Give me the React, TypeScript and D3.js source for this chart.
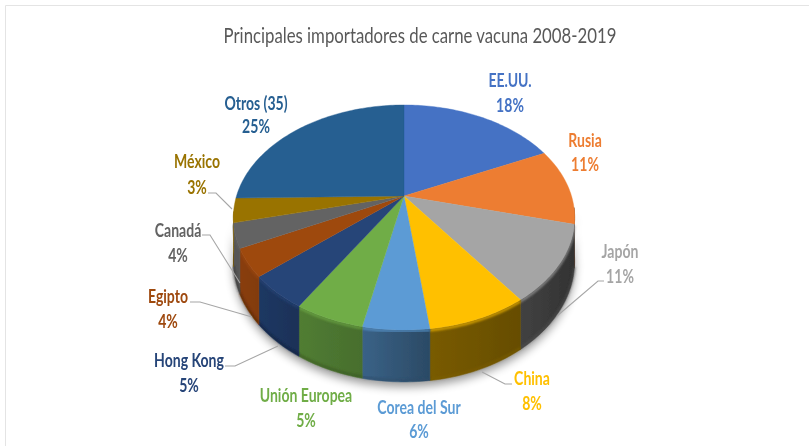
import React from "react";
import * as d3 from "d3";

const categories = ["EE.UU.", "Rusia", "Japón", "China", "Corea del Sur", "Unión Europea", "Hong Kong", "Egipto", "Canadá", "México", "Otros (35)"];
const shares = [18, 11, 11, 8, 5.25, 5.55, 4.9, 4, 3.5, 3.5, 25.3];
const pctLabels = ["18%", "11%", "11%", "8%", "6%", "5%", "5%", "4%", "4%", "3%", "25%"];
const colors = ["#4472c4", "#ed7d31", "#a5a5a5", "#ffc000", "#5b9bd5", "#70ad47", "#264478", "#9e480e", "#636363", "#997300", "#255e91"];
const labelPos: [number, number, number][] = [
  [510, 87, 112], [585, 147, 171], [620, 258, 283], [532, 385, 410], [419, 414, 438],
  [306, 402, 427], [189, 367, 392], [168, 303, 328], [178, 237, 262], [197, 168, 194], [256, 110, 133],
];
const leaders: [number, number][][] = [
  [[604, 281], [598, 281], [557, 316]],
  [[512, 384], [505, 384], [482, 372]],
  [[225, 366], [235, 366], [278, 346]],
  [[190, 302], [200, 302], [252, 317]],
  [[202, 235], [210, 235], [240, 283]],
  [[208, 193], [216, 193], [232, 209]],
];

const CX = 404, CY = 196, R = 167.5, RV = 108.4, K = 0.191, H = 42;
const project = (a: number, depth = 0): [number, number] => {
  const u = Math.sin(a), v = -Math.cos(a), w = 1 - K * v;
  return [CX + (R * u) / w, CY + (RV * v) / w + (depth * H) / w];
};
const sample = (a0: number, a1: number, depth = 0) => {
  const n = Math.max(2, Math.ceil(Math.abs(a1 - a0) / 0.02));
  return d3.range(n + 1).map((i) => project(a0 + ((a1 - a0) * i) / n, depth));
};
const line = d3.line();
const arcs = d3.pie<number>().sort(null).value((d) => d)(shares);
const WALL0 = (96 * Math.PI) / 180, WALL1 = (262 * Math.PI) / 180;
const wallLight = d3.scaleLinear().domain([235, 300, 360, 432, 522, 575]).range([0.88, 0.72, 0.64, 0.47, 0.4, 0.3]).clamp(true);
const shadeAt = (c: string, x: number) => {
  const r = d3.rgb(c), f = wallLight(x);
  return d3.rgb(r.r * f, r.g * f, r.b * f).formatHex();
};

export default function App() {
  const full = sample(WALL0, WALL1, 1);
  const base = sample(WALL0, WALL1, 0);
  const silhouette = line([...base, ...[...full].reverse()]) + "Z";
  return (
    <svg width={809} height={446} style={{ position: "absolute", left: 0, top: 0, background: "#fff" }}>
      <defs>
        <filter id="shadow" x="-20%" y="-20%" width="140%" height="140%"><feGaussianBlur stdDeviation="5" /></filter>
        <filter id="soft" x="-10%" y="-10%" width="120%" height="120%"><feGaussianBlur stdDeviation="0.45" /></filter>
        <filter id="rim" x="-10%" y="-10%" width="120%" height="120%"><feGaussianBlur stdDeviation="1.2" /></filter>
        {arcs.map((d, i) => {
          const a0 = Math.max(d.startAngle, WALL0), a1 = Math.min(d.endAngle, WALL1);
          if (a1 <= a0) return null;
          const [x0] = project(a0), [x1] = project(a1);
          return (
            <linearGradient key={i} id={`wall${i}`} gradientUnits="userSpaceOnUse" x1={x0} x2={x1} y1={0} y2={0}>
              <stop offset="0" stopColor={shadeAt(colors[i], x0)} />
              <stop offset="1" stopColor={shadeAt(colors[i], x1)} />
            </linearGradient>
          );
        })}
      </defs>
      <path d="M5.5 446V5.5H809" fill="none" stroke="#e4e4e4" strokeWidth={1} />
      <path d={silhouette} transform="translate(0,5)" fill="#000" opacity={0.4} filter="url(#shadow)" />
      <g filter="url(#soft)">
        {arcs.map((d, i) => {
          const a0 = Math.max(d.startAngle, WALL0), a1 = Math.min(d.endAngle, WALL1);
          if (a1 <= a0) return null;
          const top = sample(a0, a1, 0), bot = sample(a0, a1, 1);
          return (
            <g key={i}>
              <path d={line([...top, ...[...bot].reverse()]) + "Z"} fill={`url(#wall${i})`} stroke={`url(#wall${i})`} strokeWidth={0.5} />
              <path d={line(top)!} transform="translate(0,1.5)" fill="none" stroke={colors[i]} strokeWidth={2.5} opacity={0.7} filter="url(#rim)" />
              <path d={line(bot)!} transform="translate(0,-1.5)" fill="none" stroke={d3.rgb(colors[i]).darker(2).formatHex()} strokeWidth={2.5} opacity={0.6} filter="url(#rim)" />
            </g>
          );
        })}
        {arcs.map((d, i) => (
          <path key={i} d={line([[CX, CY], ...sample(d.startAngle, d.endAngle)])! + "Z"} fill={colors[i]} stroke={colors[i]} strokeWidth={0.4} />
        ))}
        {leaders.map((l, i) => (
          <path key={i} d={line(l)!} fill="none" stroke="#a6a6a6" strokeWidth={1.1} />
        ))}
        <text transform="translate(420,43) scale(0.78,1)" textAnchor="middle" fontFamily="Lato" fontSize={21.5} fill="#595959">
          Principales importadores de carne vacuna 2008-2019
        </text>
        {categories.map((c, i) => {
          const [x, y1, y2] = labelPos[i];
          return (
            <g key={c} fontFamily="Lato" fontWeight={700} fontSize={18} fill={colors[i]} textAnchor="middle">
              <text transform={`translate(${x},${y1}) scale(0.78,1)`}>{c}</text>
              <text transform={`translate(${x},${y2}) scale(0.78,1)`}>{pctLabels[i]}</text>
            </g>
          );
        })}
      </g>
    </svg>
  );
}
